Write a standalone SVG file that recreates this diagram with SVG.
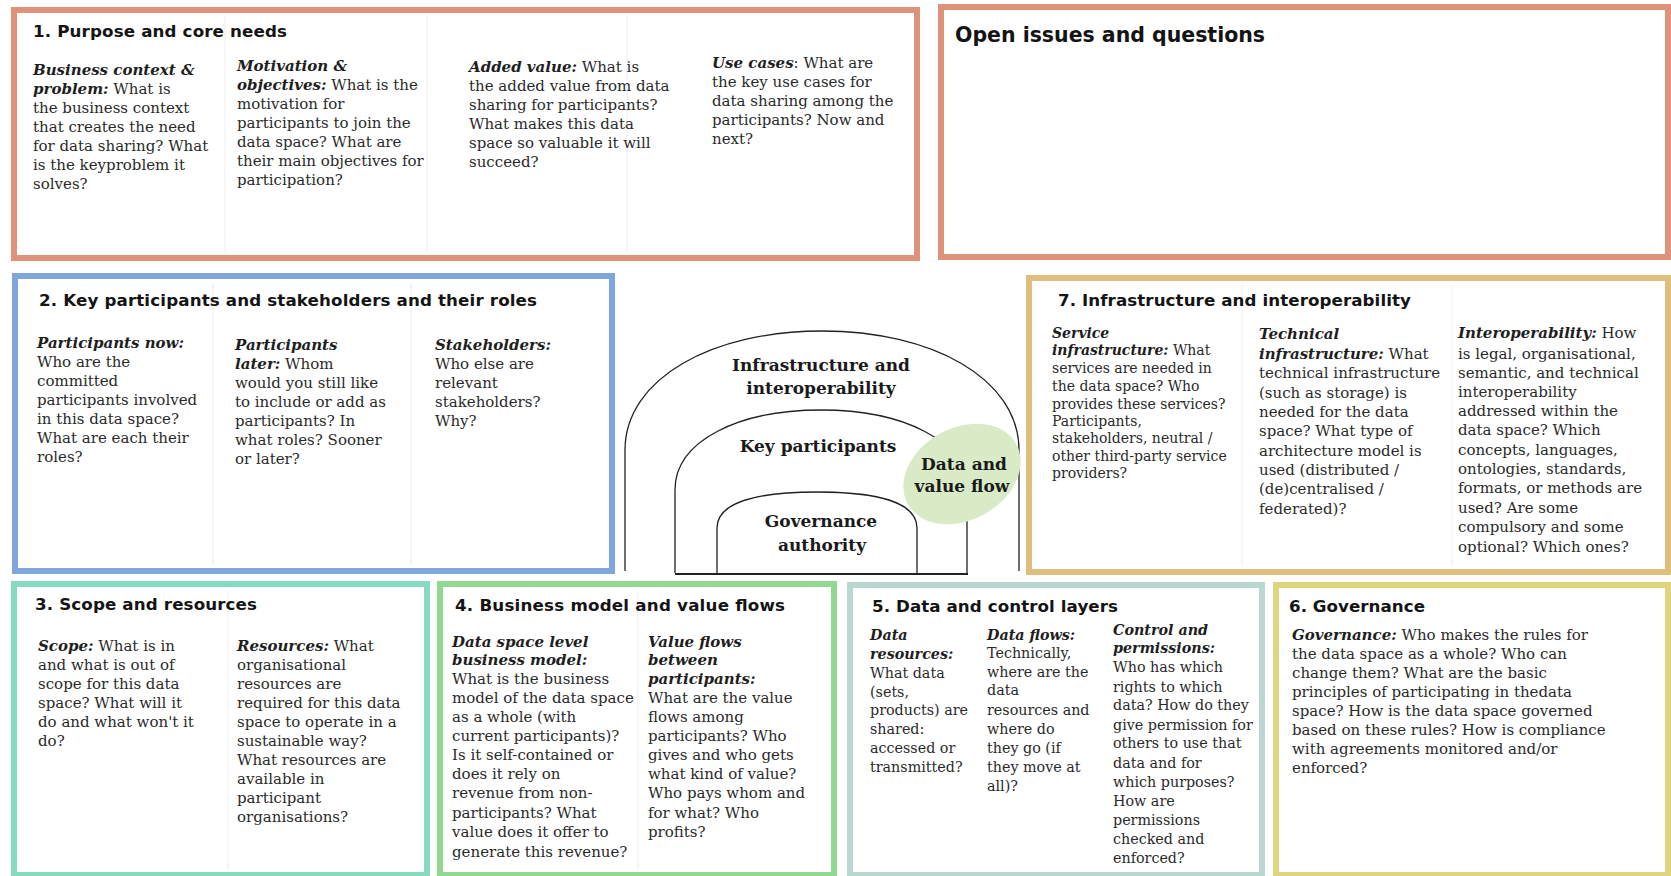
<svg xmlns="http://www.w3.org/2000/svg" width="1671" height="876" viewBox="0 0 1671 876">
<style>
.frame{fill:#ffffff;stroke-width:6}
.div{stroke:#ededed;stroke-width:1}
.h{font-family:"DejaVu Sans","Liberation Sans",sans-serif;font-weight:bold;font-size:16.7px;fill:#141414}
.t{font-family:"DejaVu Serif","Liberation Serif",serif;font-size:15px;fill:#2a2a2a}
.s14{font-size:14px}
.s143{font-size:14.3px}
.bi{font-weight:bold;font-style:italic;fill:#1e1e1e}
.c{font-family:"DejaVu Serif","Liberation Serif",serif;font-weight:bold;font-size:17px;fill:#1a1a1a;text-anchor:middle}
.arch{fill:none;stroke:#222;stroke-width:1.3}
</style>
<rect x="0" y="0" width="1671" height="876" fill="#ffffff"/>

<g id="box1">
<rect class="frame" x="14" y="10" width="903" height="248" stroke="#df927a"/>
<line class="div" x1="225" y1="16" x2="225" y2="252"/>
<line class="div" x1="427" y1="16" x2="427" y2="252"/>
<line class="div" x1="627" y1="16" x2="627" y2="252"/>
<text class="h" x="33" y="37" textLength="254" lengthAdjust="spacing">1. Purpose and core needs</text>
<text class="t" x="33" y="75"><tspan class="bi">Business context &amp;</tspan></text>
<text class="t" x="33" y="94"><tspan class="bi">problem:</tspan> What is</text>
<text class="t" x="33" y="113">the business context</text>
<text class="t" x="33" y="132">that creates the need</text>
<text class="t" x="33" y="151">for data sharing? What</text>
<text class="t" x="33" y="170">is the keyproblem it</text>
<text class="t" x="33" y="189">solves?</text>
<text class="t" x="237" y="71"><tspan class="bi">Motivation &amp;</tspan></text>
<text class="t" x="237" y="90"><tspan class="bi">objectives:</tspan> What is the</text>
<text class="t" x="237" y="109">motivation for</text>
<text class="t" x="237" y="128">participants to join the</text>
<text class="t" x="237" y="147">data space? What are</text>
<text class="t" x="237" y="166">their main objectives for</text>
<text class="t" x="237" y="185">participation?</text>
<text class="t" x="469" y="72"><tspan class="bi">Added value:</tspan> What is</text>
<text class="t" x="469" y="91">the added value from data</text>
<text class="t" x="469" y="110">sharing for participants?</text>
<text class="t" x="469" y="129">What makes this data</text>
<text class="t" x="469" y="148">space so valuable it will</text>
<text class="t" x="469" y="167">succeed?</text>
<text class="t" x="712" y="68"><tspan class="bi">Use cases</tspan>: What are</text>
<text class="t" x="712" y="87">the key use cases for</text>
<text class="t" x="712" y="106">data sharing among the</text>
<text class="t" x="712" y="125">participants? Now and</text>
<text class="t" x="712" y="144">next?</text>
</g>

<g id="open-issues">
<rect class="frame" x="941" y="7" width="727" height="250" stroke="#df927a"/>
<text class="h" x="955" y="42" style="font-size:20.5px" textLength="310" lengthAdjust="spacing">Open issues and questions</text>
</g>

<g id="box2">
<rect class="frame" x="15" y="276" width="597" height="295" stroke="#80a7dc"/>
<line class="div" x1="213" y1="283" x2="213" y2="565"/>
<line class="div" x1="411" y1="283" x2="411" y2="565"/>
<text class="h" x="39" y="306" textLength="498" lengthAdjust="spacing">2. Key participants and stakeholders and their roles</text>
<text class="t" x="37" y="348"><tspan class="bi">Participants now:</tspan></text>
<text class="t" x="37" y="367">Who are the</text>
<text class="t" x="37" y="386">committed</text>
<text class="t" x="37" y="405">participants involved</text>
<text class="t" x="37" y="424">in this data space?</text>
<text class="t" x="37" y="443">What are each their</text>
<text class="t" x="37" y="462">roles?</text>
<text class="t" x="235" y="350"><tspan class="bi">Participants</tspan></text>
<text class="t" x="235" y="369"><tspan class="bi">later:</tspan> Whom</text>
<text class="t" x="235" y="388">would you still  like</text>
<text class="t" x="235" y="407">to include or add as</text>
<text class="t" x="235" y="426">participants? In</text>
<text class="t" x="235" y="445">what roles? Sooner</text>
<text class="t" x="235" y="464">or later?</text>
<text class="t" x="435" y="350"><tspan class="bi">Stakeholders:</tspan></text>
<text class="t" x="435" y="369">Who else are</text>
<text class="t" x="435" y="388">relevant</text>
<text class="t" x="435" y="407">stakeholders?</text>
<text class="t" x="435" y="426">Why?</text>
</g>

<g id="center-diagram">
<path class="arch" d="M625,571 L625,450 C625,378 713,331 822,331 C931,331 1019,378 1019,450 L1019,571"/>
<path class="arch" d="M675,573 L675,490 C675,440 740,410 821,410 C902,410 967,440 967,490 L967,573"/>
<ellipse cx="962" cy="474" rx="62" ry="46" transform="rotate(-29 962 474)" fill="#d8eac6"/>
<path class="arch" d="M717,573 L717,528 C717,503 755,492 817,492 C879,492 917,503 917,528 L917,573"/>
<line x1="675" y1="574" x2="968" y2="574" stroke="#222" stroke-width="2.2"/>
<text class="c" x="821" y="371">Infrastructure and</text>
<text class="c" x="821" y="394">interoperability</text>
<text class="c" x="818" y="452">Key participants</text>
<text class="c" x="964" y="470">Data and</text>
<text class="c" x="962" y="492">value flow</text>
<text class="c" x="821" y="527">Governance</text>
<text class="c" x="822" y="551">authority</text>
</g>

<g id="box7">
<rect class="frame" x="1029" y="278" width="639" height="294" stroke="#dfbd7d"/>
<line class="div" x1="1242" y1="285" x2="1242" y2="566"/>
<line class="div" x1="1452" y1="285" x2="1452" y2="566"/>
<text class="h" x="1058" y="306" textLength="353" lengthAdjust="spacing">7. Infrastructure and interoperability</text>
<text class="t s14" x="1052" y="338"><tspan class="bi">Service</tspan></text>
<text class="t s14" x="1052" y="355"><tspan class="bi">infrastructure:</tspan> What</text>
<text class="t s14" x="1052" y="373">services are  needed in</text>
<text class="t s14" x="1052" y="391">the data space?  Who</text>
<text class="t s14" x="1052" y="409">provides these services?</text>
<text class="t s14" x="1052" y="426">Participants,</text>
<text class="t s14" x="1052" y="443">stakeholders, neutral /</text>
<text class="t s14" x="1052" y="461">other third-party  service</text>
<text class="t s14" x="1052" y="478">providers?</text>
<text class="t" x="1259" y="339"><tspan class="bi">Technical</tspan></text>
<text class="t" x="1259" y="359"><tspan class="bi">infrastructure:</tspan> What</text>
<text class="t" x="1259" y="378">technical  infrastructure</text>
<text class="t" x="1259" y="398">(such as storage) is</text>
<text class="t" x="1259" y="417">needed  for the data</text>
<text class="t" x="1259" y="436">space? What type  of</text>
<text class="t" x="1259" y="456">architecture model is</text>
<text class="t" x="1259" y="475">used (distributed /</text>
<text class="t" x="1259" y="494">(de)centralised /</text>
<text class="t" x="1259" y="514">federated)?</text>
<text class="t" x="1458" y="338"><tspan class="bi">Interoperability:</tspan> How</text>
<text class="t" x="1458" y="359">is legal, organisational,</text>
<text class="t" x="1458" y="378">semantic, and technical</text>
<text class="t" x="1458" y="397">interoperability</text>
<text class="t" x="1458" y="416">addressed within the</text>
<text class="t" x="1458" y="435">data space? Which</text>
<text class="t" x="1458" y="455">concepts, languages,</text>
<text class="t" x="1458" y="474">ontologies,  standards,</text>
<text class="t" x="1458" y="493">formats, or methods are</text>
<text class="t" x="1458" y="513">used? Are some</text>
<text class="t" x="1458" y="532">compulsory and some</text>
<text class="t" x="1458" y="552">optional? Which ones?</text>
</g>

<g id="box3">
<rect class="frame" x="14" y="584" width="413" height="291" stroke="#86dbbd"/>
<line class="div" x1="228" y1="591" x2="228" y2="870"/>
<text class="h" x="35" y="610" textLength="222" lengthAdjust="spacing">3. Scope and resources</text>
<text class="t" x="38" y="651"><tspan class="bi">Scope:</tspan> What is in</text>
<text class="t" x="38" y="670">and what is out of</text>
<text class="t" x="38" y="689">scope for this data</text>
<text class="t" x="38" y="708">space?  What will it</text>
<text class="t" x="38" y="727">do and what won't it</text>
<text class="t" x="38" y="746">do?</text>
<text class="t" x="237" y="651"><tspan class="bi">Resources:</tspan> What</text>
<text class="t" x="237" y="670">organisational</text>
<text class="t" x="237" y="689">resources are</text>
<text class="t" x="237" y="708">required for this data</text>
<text class="t" x="237" y="727">space to operate in a</text>
<text class="t" x="237" y="746">sustainable way?</text>
<text class="t" x="237" y="765">What resources are</text>
<text class="t" x="237" y="784">available in</text>
<text class="t" x="237" y="803">participant</text>
<text class="t" x="237" y="822">organisations?</text>
</g>

<g id="box4">
<rect class="frame" x="440" y="584" width="394" height="291" stroke="#91d891"/>
<line class="div" x1="638" y1="591" x2="638" y2="870"/>
<text class="h" x="455" y="611" textLength="330" lengthAdjust="spacing">4. Business model and value flows</text>
<text class="t" x="452" y="647"><tspan class="bi">Data space level</tspan></text>
<text class="t" x="452" y="665"><tspan class="bi">business model:</tspan></text>
<text class="t" x="452" y="684">What is the business</text>
<text class="t" x="452" y="703">model of the data space</text>
<text class="t" x="452" y="722">as a whole (with</text>
<text class="t" x="452" y="741">current  participants)?</text>
<text class="t" x="452" y="760">Is it self-contained or</text>
<text class="t" x="452" y="779">does  it rely on</text>
<text class="t" x="452" y="798">revenue from non-</text>
<text class="t" x="452" y="818">participants?  What</text>
<text class="t" x="452" y="837">value does it offer to</text>
<text class="t" x="452" y="857">generate  this revenue?</text>
<text class="t" x="648" y="647"><tspan class="bi">Value flows</tspan></text>
<text class="t" x="648" y="665"><tspan class="bi">between</tspan></text>
<text class="t" x="648" y="684"><tspan class="bi">participants:</tspan></text>
<text class="t" x="648" y="703">What are the value</text>
<text class="t" x="648" y="722">flows among</text>
<text class="t" x="648" y="741">participants? Who</text>
<text class="t" x="648" y="760">gives  and who gets</text>
<text class="t" x="648" y="779">what kind of value?</text>
<text class="t" x="648" y="798">Who pays whom and</text>
<text class="t" x="648" y="818">for what?  Who</text>
<text class="t" x="648" y="837">profits?</text>
</g>

<g id="box5">
<rect class="frame" x="850" y="585" width="412" height="290" stroke="#b9d7d0"/>
<text class="h" x="872" y="612" textLength="246" lengthAdjust="spacing">5. Data and control layers</text>
<text class="t s143" x="870" y="640"><tspan class="bi">Data</tspan></text>
<text class="t s143" x="870" y="659"><tspan class="bi">resources:</tspan></text>
<text class="t s143" x="870" y="678">What  data</text>
<text class="t s143" x="870" y="697">(sets,</text>
<text class="t s143" x="870" y="715">products) are</text>
<text class="t s143" x="870" y="734">shared:</text>
<text class="t s143" x="870" y="753">accessed or</text>
<text class="t s143" x="870" y="772">transmitted?</text>
<text class="t s143" x="987" y="640"><tspan class="bi">Data flows:</tspan></text>
<text class="t s143" x="987" y="658">Technically,</text>
<text class="t s143" x="987" y="677">where are the</text>
<text class="t s143" x="987" y="695">data</text>
<text class="t s143" x="987" y="715">resources and</text>
<text class="t s143" x="987" y="734">where do</text>
<text class="t s143" x="987" y="753">they go (if</text>
<text class="t s143" x="987" y="772">they move at</text>
<text class="t s143" x="987" y="791">all)?</text>
<text class="t s143" x="1113" y="635"><tspan class="bi">Control and</tspan></text>
<text class="t s143" x="1113" y="653"><tspan class="bi">permissions:</tspan></text>
<text class="t s143" x="1113" y="672">Who has which</text>
<text class="t s143" x="1113" y="692">rights to  which</text>
<text class="t s143" x="1113" y="710">data? How do they</text>
<text class="t s143" x="1113" y="730">give permission for</text>
<text class="t s143" x="1113" y="748">others to use that</text>
<text class="t s143" x="1113" y="768">data  and for</text>
<text class="t s143" x="1113" y="787">which purposes?</text>
<text class="t s143" x="1113" y="806">How are</text>
<text class="t s143" x="1113" y="825">permissions</text>
<text class="t s143" x="1113" y="844">checked and</text>
<text class="t s143" x="1113" y="863">enforced?</text>
</g>

<g id="box6">
<rect class="frame" x="1276" y="585" width="392" height="290" stroke="#e0d57c"/>
<text class="h" x="1289" y="612" textLength="136" lengthAdjust="spacing">6. Governance</text>
<text class="t" x="1292" y="640"><tspan class="bi">Governance:</tspan> Who makes the rules for</text>
<text class="t" x="1292" y="659">the data space as a whole?  Who can</text>
<text class="t" x="1292" y="678">change them? What are the basic</text>
<text class="t" x="1292" y="697">principles of participating in thedata</text>
<text class="t" x="1292" y="716">space? How is the data space governed</text>
<text class="t" x="1292" y="735">based on these rules? How is  compliance</text>
<text class="t" x="1292" y="754">with agreements monitored and/or</text>
<text class="t" x="1292" y="773">enforced?</text>
</g>

<g id="connectors"></g>
</svg>
